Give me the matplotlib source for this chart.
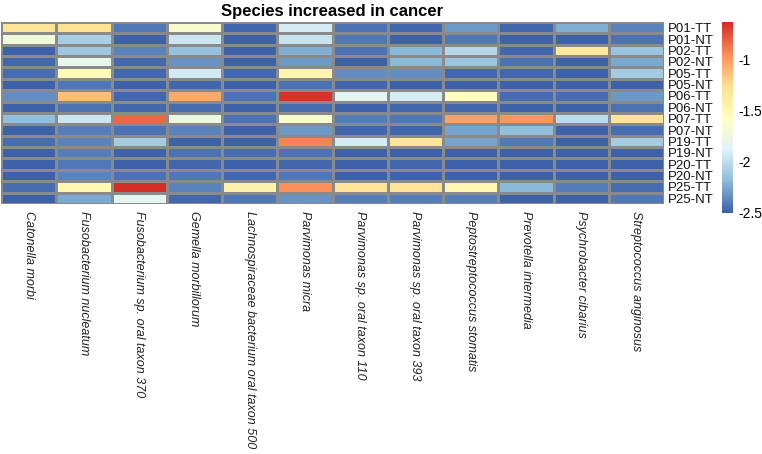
import numpy as np
import matplotlib
matplotlib.use("Agg")
import matplotlib.pyplot as plt
from matplotlib.colors import LinearSegmentedColormap, Normalize

plt.rcParams['font.family'] = ['Liberation Sans', 'DejaVu Sans']

species = [
    "Catonella morbi",
    "Fusobacterium nucleatum",
    "Fusobacterium sp. oral taxon 370",
    "Gemella morbillorum",
    "Lachnospiraceae bacterium oral taxon 500",
    "Parvimonas micra",
    "Parvimonas sp. oral taxon 110",
    "Parvimonas sp. oral taxon 393",
    "Peptostreptococcus stomatis",
    "Prevotella intermedia",
    "Psychrobacter cibarius",
    "Streptococcus anginosus",
]
samples = ["P01-TT", "P01-NT", "P02-TT", "P02-NT", "P05-TT", "P05-NT",
           "P06-TT", "P06-NT", "P07-TT", "P07-NT", "P19-TT", "P19-NT",
           "P20-TT", "P20-NT", "P25-TT", "P25-NT"]

catonella_morbi = [-1.30, -1.72, -2.50, -2.48, -2.45, -2.50, -2.35, -2.50,
                   -2.18, -2.50, -2.45, -2.50, -2.50, -2.50, -2.45, -2.50]
fuso_nucleatum = [-1.28, -2.08, -2.12, -1.80, -1.52, -2.42, -1.13, -2.43,
                  -1.95, -2.40, -2.37, -2.40, -2.42, -2.37, -1.48, -2.25]
fuso_370 = [-2.42, -2.50, -2.37, -2.48, -2.47, -2.50, -2.48, -2.47,
            -0.82, -2.44, -2.10, -2.50, -2.50, -2.43, -0.63, -1.83]
gemella = [-1.65, -1.95, -2.16, -2.32, -1.93, -2.47, -1.05, -2.45,
           -1.77, -2.37, -2.50, -2.43, -2.47, -2.42, -2.38, -2.48]
lachno_500 = [-2.47, -2.50, -2.50, -2.50, -2.48, -2.50, -2.43, -2.50,
              -2.43, -2.50, -2.50, -2.45, -2.50, -2.48, -1.45, -2.42]
parv_micra = [-1.92, -1.96, -2.22, -2.30, -1.47, -2.43, -0.65, -2.45,
              -1.65, -2.30, -0.92, -2.43, -2.47, -2.42, -0.95, -2.32]
parv_110 = [-2.43, -2.42, -2.43, -2.50, -2.35, -2.48, -1.83, -2.50,
            -2.40, -2.48, -1.92, -2.50, -2.50, -2.50, -1.30, -2.40]
parv_393 = [-2.47, -2.50, -2.20, -2.20, -2.35, -2.50, -1.92, -2.48,
            -2.42, -2.47, -1.30, -2.50, -2.48, -2.50, -1.30, -2.40]
pepto = [-2.30, -2.42, -2.03, -2.13, -2.48, -2.50, -1.55, -2.47,
         -1.02, -2.27, -2.27, -2.50, -2.50, -2.50, -1.48, -2.40]
prevotella = [-2.48, -2.50, -2.48, -2.44, -2.47, -2.50, -2.45, -2.50,
              -0.97, -2.17, -2.42, -2.50, -2.50, -2.50, -2.20, -2.50]
psychro = [-2.22, -2.50, -1.33, -2.50, -2.50, -2.50, -2.45, -2.50,
           -2.00, -2.50, -2.50, -2.50, -2.50, -2.50, -2.40, -2.50]
strep = [-2.37, -2.43, -2.14, -2.24, -2.10, -2.50, -2.30, -2.43,
         -1.30, -2.45, -2.10, -2.50, -2.50, -2.50, -2.46, -2.42]

data = np.array([catonella_morbi, fuso_nucleatum, fuso_370, gemella, lachno_500,
                 parv_micra, parv_110, parv_393, pepto, prevotella, psychro, strep]).T

colorbar_ticks = [-1, -1.5, -2, -2.5]

cmap = LinearSegmentedColormap.from_list(
    "rdylbu_r", ["#3D62AA", "#8DBCDA", "#E0F3F8", "#FFFFBF", "#FEE090", "#FC8D59", "#D42E26"], N=100)
norm = Normalize(vmin=data.min(), vmax=data.max())

W, H = 762, 454
fig = plt.figure(figsize=(W / 100, H / 100), dpi=100)

x0, x1, y0, y1 = 1, 664, 22, 204
ax = fig.add_axes([x0 / W, 1 - y1 / H, (x1 - x0) / W, (y1 - y0) / H])
ax.pcolormesh(data, cmap=cmap, norm=norm, edgecolors="#8a8a8a", linewidth=0.9)
ax.set_xlim(0, data.shape[1])
ax.set_ylim(data.shape[0], 0)
for s in ax.spines.values():
    s.set_visible(False)
ax.set_xticks(np.arange(data.shape[1]) + 0.5)
ax.set_xticklabels(species, rotation=-90, fontstyle="italic", fontsize=9,
                   va="top", ha="center", color="#222222")
ax.set_yticks(np.arange(data.shape[0]) + 0.5)
ax.set_yticklabels(samples, fontsize=9.5, color="#111111")
ax.yaxis.tick_right()
ax.tick_params(axis="both", length=0, pad=3)
ax.tick_params(axis="x", pad=5)
ax.set_title("Species increased in cancer", fontsize=12, fontweight="bold", pad=4)

cax = fig.add_axes([722 / W, 1 - 213 / H, 11 / W, (213 - 22) / H])
cb = fig.colorbar(plt.cm.ScalarMappable(norm=norm, cmap=cmap), cax=cax, ticks=colorbar_ticks)
cb.outline.set_visible(False)
cb.ax.tick_params(length=0, labelsize=10, pad=4)
cb.ax.set_yticklabels([str(t) for t in colorbar_ticks])

fig.savefig("out.png", dpi=100)
